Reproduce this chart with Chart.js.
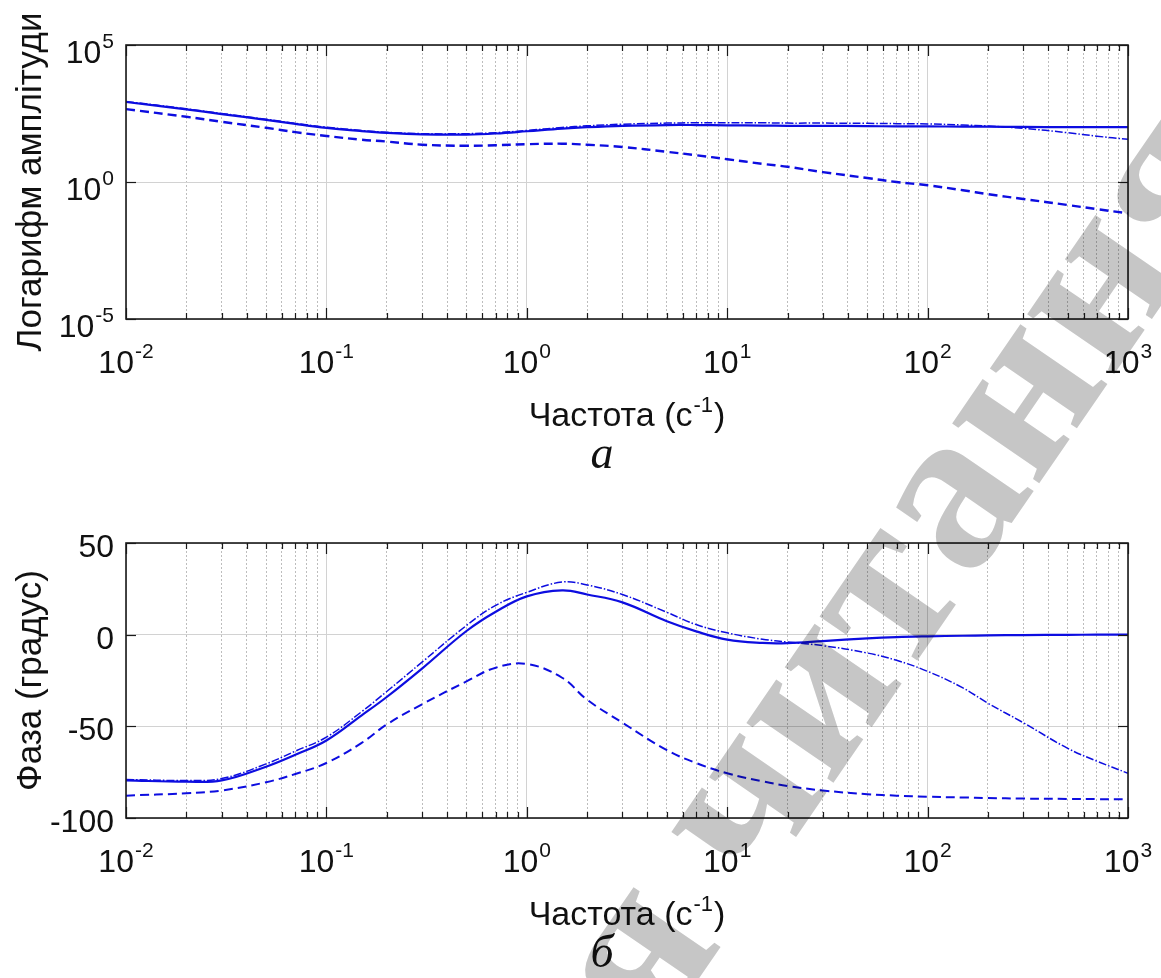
<!DOCTYPE html>
<html>
<head>
<meta charset="utf-8">
<script src="https://cdn.jsdelivr.net/npm/chart.js@4.4.1/dist/chart.umd.min.js"></script>
<style>
  body { margin: 0; background: #fff; }
  #page { position: relative; width: 1161px; height: 978px; overflow: hidden; }
  #page canvas { position: absolute; left: 0; }
</style>
</head>
<body>
<div id="page">
  <canvas id="ampChart" width="1161" height="489" style="top:0"></canvas>
  <canvas id="phaseChart" width="1161" height="489" style="top:489px"></canvas>
</div>
<script>
// frequency points, c^-1
const freq = [0.01, 0.02, 0.03, 0.05, 0.07, 0.1, 0.15, 0.2, 0.3, 0.5, 0.7, 1, 1.5, 2, 3, 5, 7,
              10, 15, 20, 30, 50, 70, 100, 150, 200, 300, 500, 700, 1000];

// amplitude
const ampSolid = [832, 447, 302, 186, 132, 95, 72, 62, 55, 54, 59, 71, 89, 100, 112, 120, 120,
                  117, 115, 112, 112, 110, 107, 107, 105, 105, 102, 100, 100, 100];
const ampDashDot = [871, 468, 316, 195, 138, 100, 76, 65, 58, 58, 63, 76, 98, 112, 129, 141, 145,
                    145, 145, 141, 141, 138, 135, 132, 120, 110, 91, 63, 47, 36];
const ampDashed = [457, 240, 158, 95, 66, 48, 35, 30, 23, 21, 22, 24, 25, 23, 19, 12.6, 9.5,
                   6.8, 4.6, 3.6, 2.3, 1.4, 1.0, 0.76, 0.5, 0.36, 0.24, 0.145, 0.102, 0.072];

// phase, degrees
const phaseSolid = [-79.5, -80.2, -79.5, -72, -65.5, -57.7, -44, -34, -18.5, 2, 12.5, 20.9, 24.2, 21.9, 17.6, 7.3, 1.8,
                    -2.7, -4.5, -4.6, -3.5, -2, -1.3, -0.9, -0.6, -0.4, -0.2, -0.1, 0, 0];
const phaseDashDot = [-79, -79.5, -78.5, -70.5, -63.5, -55.9, -42, -31, -15, 5, 16, 23.1, 28.7, 27.1, 21.9, 12.2, 5.5,
                      1, -2.5, -4, -6, -10, -14, -20, -29, -37.4, -48, -62, -69, -75.6];
const phaseDashed = [-87.8, -86.5, -85, -80.5, -76, -70, -59, -49, -38, -25.5, -18, -16, -23.5, -35.5, -48, -63, -70,
                     -75.6, -80, -82.5, -85, -87, -87.8, -88.4, -88.8, -89.1, -89.4, -89.6, -89.7, -89.8];

// axis ticks
const freqDecades = [-2, -1, 0, 1, 2, 3];
const ampDecades = [-5, 0, 5];
const phaseTicks = [-100, -50, 0, 50];

const BLUE = "#0d0de0";
const TICK_FONT = "32px 'Liberation Sans', Arial, sans-serif";
const SUP_FONT = "21px 'Liberation Sans', Arial, sans-serif";
const TITLE_FONT = "34px 'Liberation Sans', Arial, sans-serif";
const Y_TITLE_FONT = "35px 'Liberation Sans', Arial, sans-serif";
const TITLE_SUP = "22px 'Liberation Sans', Arial, sans-serif";
const CAPTION_FONT = "italic 46px 'Liberation Serif', 'Times New Roman', serif";

function isDecade(v) {
    const l = Math.log10(v);
    return Math.abs(l - Math.round(l)) < 1e-9;
}

// 1..9 x 10^n for every decade of the frequency axis
function freqTicks(scale) {
    const ticks = [];
    for (let e = freqDecades[0]; e < freqDecades[freqDecades.length - 1]; e++) {
        for (let m = 1; m <= 9; m++) ticks.push({ value: +(m * Math.pow(10, e)).toPrecision(3) });
    }
    ticks.push({ value: Math.pow(10, freqDecades[freqDecades.length - 1]) });
    scale.ticks = ticks;
}

function series(data, style, dashWidth) {
    const base = {
        data: data,
        borderColor: BLUE,
        pointRadius: 0,
        fill: false,
        tension: 0.4
    };
    if (style === "solid") return Object.assign(base, { borderWidth: 2.2 });
    if (style === "dashed") return Object.assign(base, { borderWidth: dashWidth, borderDash: [9, 5] });
    return Object.assign(base, { borderWidth: 1.5, borderDash: [8, 2, 1.5, 2] });
}

function xScale() {
    return {
        type: "logarithmic",
        min: 0.01,
        max: 1000,
        afterBuildTicks: freqTicks,
        afterFit: s => { s.height = 0; },
        ticks: { display: false },
        border: {
            display: false,
            dash: ctx => (ctx.tick && isDecade(ctx.tick.value)) ? [] : [2, 2]
        },
        grid: {
            drawTicks: false,
            lineWidth: 1,
            color: ctx => (ctx.tick && isDecade(ctx.tick.value)) ? "#d2d2d2" : "#bdbdbd"
        }
    };
}

function line(ctx, x1, y1, x2, y2) {
    ctx.beginPath();
    ctx.moveTo(x1, y1);
    ctx.lineTo(x2, y2);
    ctx.stroke();
}

// "10" with a raised exponent
function drawPower(ctx, exp, x, baseY, align) {
    ctx.font = TICK_FONT;
    const wBase = ctx.measureText("10").width;
    ctx.font = SUP_FONT;
    const wExp = ctx.measureText(String(exp)).width;
    const total = wBase + 1 + wExp;
    const left = align === "center" ? x - total / 2 : x - total;
    ctx.textAlign = "left";
    ctx.textBaseline = "alphabetic";
    ctx.font = TICK_FONT;
    ctx.fillText("10", left, baseY);
    ctx.font = SUP_FONT;
    ctx.fillText(String(exp), left + wBase + 1, baseY - 15);
}

function drawFreqTitle(ctx, cx, baseY) {
    const head = "Частота (с", sup = "-1", tail = ")";
    ctx.font = TITLE_FONT;
    const w1 = ctx.measureText(head).width;
    const w3 = ctx.measureText(tail).width;
    ctx.font = TITLE_SUP;
    const w2 = ctx.measureText(sup).width;
    let x = cx - (w1 + w2 + w3 + 2) / 2;
    ctx.textAlign = "left";
    ctx.textBaseline = "alphabetic";
    ctx.font = TITLE_FONT;
    ctx.fillText(head, x, baseY);
    ctx.font = TITLE_SUP;
    ctx.fillText(sup, x + w1 + 1, baseY - 14);
    ctx.font = TITLE_FONT;
    ctx.fillText(tail, x + w1 + w2 + 2, baseY);
}

// grey "read only" stamp across the sheet, placed by the centre of its "а"
function drawStamp(ctx, offsetY) {
    const size = 230;
    const text = "Тільки для читання";
    const before = "Тільки для чит";
    ctx.save();
    ctx.globalCompositeOperation = "multiply";
    ctx.translate(958, 508 - offsetY);
    ctx.rotate(-55.5 * Math.PI / 180);
    ctx.font = "bold " + size + "px 'Liberation Serif', 'Times New Roman', serif";
    ctx.fillStyle = "#c6c6c6";
    ctx.textAlign = "left";
    ctx.textBaseline = "alphabetic";
    const pre = ctx.measureText(before).width;
    const wa = ctx.measureText("а").width;
    ctx.fillText(text, -(pre + wa / 2), 0.23 * size);
    ctx.restore();
}

function decorations(opts) {
    return {
        id: "bodeFrame",
        afterDraw(chart) {
            const ctx = chart.ctx;
            const a = chart.chartArea;
            const x = chart.scales.x, y = chart.scales.y;
            ctx.save();

            // inward tick marks
            ctx.strokeStyle = "#1a1a1a";
            ctx.lineWidth = 1.2;
            x.ticks.forEach(t => {
                const px = Math.round(x.getPixelForValue(t.value)) + 0.5;
                const len = isDecade(t.value) ? 11 : 6;
                line(ctx, px, a.top, px, a.top + len);
                line(ctx, px, a.bottom, px, a.bottom - len);
            });
            y.ticks.forEach(t => {
                const py = Math.round(y.getPixelForValue(t.value)) + 0.5;
                line(ctx, a.left, py, a.left + 10, py);
                line(ctx, a.right, py, a.right - 10, py);
            });

            // axes box
            ctx.lineWidth = 1.6;
            ctx.strokeRect(a.left, a.top, a.right - a.left, a.bottom - a.top);

            // tick labels
            ctx.fillStyle = "#111";
            freqDecades.forEach(e => {
                drawPower(ctx, e, x.getPixelForValue(Math.pow(10, e)), a.bottom + 54, "center");
            });
            opts.yLabels(ctx, a, y);

            // axis titles and caption
            drawFreqTitle(ctx, (a.left + a.right) / 2, a.bottom + 107);
            ctx.save();
            ctx.translate(41, (a.top + a.bottom) / 2);
            ctx.rotate(-Math.PI / 2);
            ctx.font = Y_TITLE_FONT;
            ctx.textAlign = "center";
            ctx.textBaseline = "alphabetic";
            ctx.fillText(opts.yTitle, 0, 0);
            ctx.restore();

            ctx.font = CAPTION_FONT;
            ctx.textAlign = "center";
            ctx.fillText(opts.caption, 602, a.bottom + 149);
            ctx.restore();

            drawStamp(ctx, opts.offsetY);
        }
    };
}

const ampCtx = document.getElementById("ampChart").getContext("2d");
const phaseCtx = document.getElementById("phaseChart").getContext("2d");

window.ampChart = new Chart(ampCtx, {
    type: "line",
    data: {
        labels: freq,
        datasets: [
            series(freq.map((f, i) => ({ x: f, y: ampDashed[i] })), "dashed", 2.4),
            series(freq.map((f, i) => ({ x: f, y: ampDashDot[i] })), "dashdot"),
            series(freq.map((f, i) => ({ x: f, y: ampSolid[i] })), "solid")
        ]
    },
    options: {
        responsive: false,
        animation: false,
        layout: { padding: { left: 126, right: 33, top: 45, bottom: 170 } },
        plugins: { legend: { display: false }, tooltip: { enabled: false } },
        scales: {
            x: xScale(),
            y: {
                type: "logarithmic",
                min: 1e-5,
                max: 1e5,
                afterBuildTicks: s => { s.ticks = ampDecades.map(e => ({ value: Math.pow(10, e) })); },
                afterFit: s => { s.width = 0; },
                ticks: { display: false },
                border: { display: false },
                grid: { drawTicks: false, color: "#d2d2d2", lineWidth: 1 }
            }
        }
    },
    plugins: [decorations({
        yTitle: "Логарифм амплітуди",
        caption: "а",
        offsetY: 0,
        yLabels: (ctx, a, y) => {
            ampDecades.forEach(e => {
                drawPower(ctx, e, a.left - 12, y.getPixelForValue(Math.pow(10, e)) + 18, "right");
            });
        }
    })]
});

window.phaseChart = new Chart(phaseCtx, {
    type: "line",
    data: {
        labels: freq,
        datasets: [
            series(freq.map((f, i) => ({ x: f, y: phaseDashed[i] })), "dashed", 2),
            series(freq.map((f, i) => ({ x: f, y: phaseDashDot[i] })), "dashdot"),
            series(freq.map((f, i) => ({ x: f, y: phaseSolid[i] })), "solid")
        ]
    },
    options: {
        responsive: false,
        animation: false,
        layout: { padding: { left: 126, right: 33, top: 54, bottom: 160 } },
        plugins: { legend: { display: false }, tooltip: { enabled: false } },
        scales: {
            x: xScale(),
            y: {
                type: "linear",
                min: -100,
                max: 50,
                afterBuildTicks: s => { s.ticks = phaseTicks.map(v => ({ value: v })); },
                afterFit: s => { s.width = 0; },
                ticks: { display: false },
                border: { display: false },
                grid: { drawTicks: false, color: "#d2d2d2", lineWidth: 1 }
            }
        }
    },
    plugins: [decorations({
        yTitle: "Фаза (градус)",
        caption: "б",
        offsetY: 489,
        yLabels: (ctx, a, y) => {
            ctx.font = TICK_FONT;
            ctx.textAlign = "right";
            ctx.textBaseline = "alphabetic";
            phaseTicks.forEach(v => {
                ctx.fillText(String(v), a.left - 12, y.getPixelForValue(v) + 14);
            });
        }
    })]
});
</script>
</body>
</html>
